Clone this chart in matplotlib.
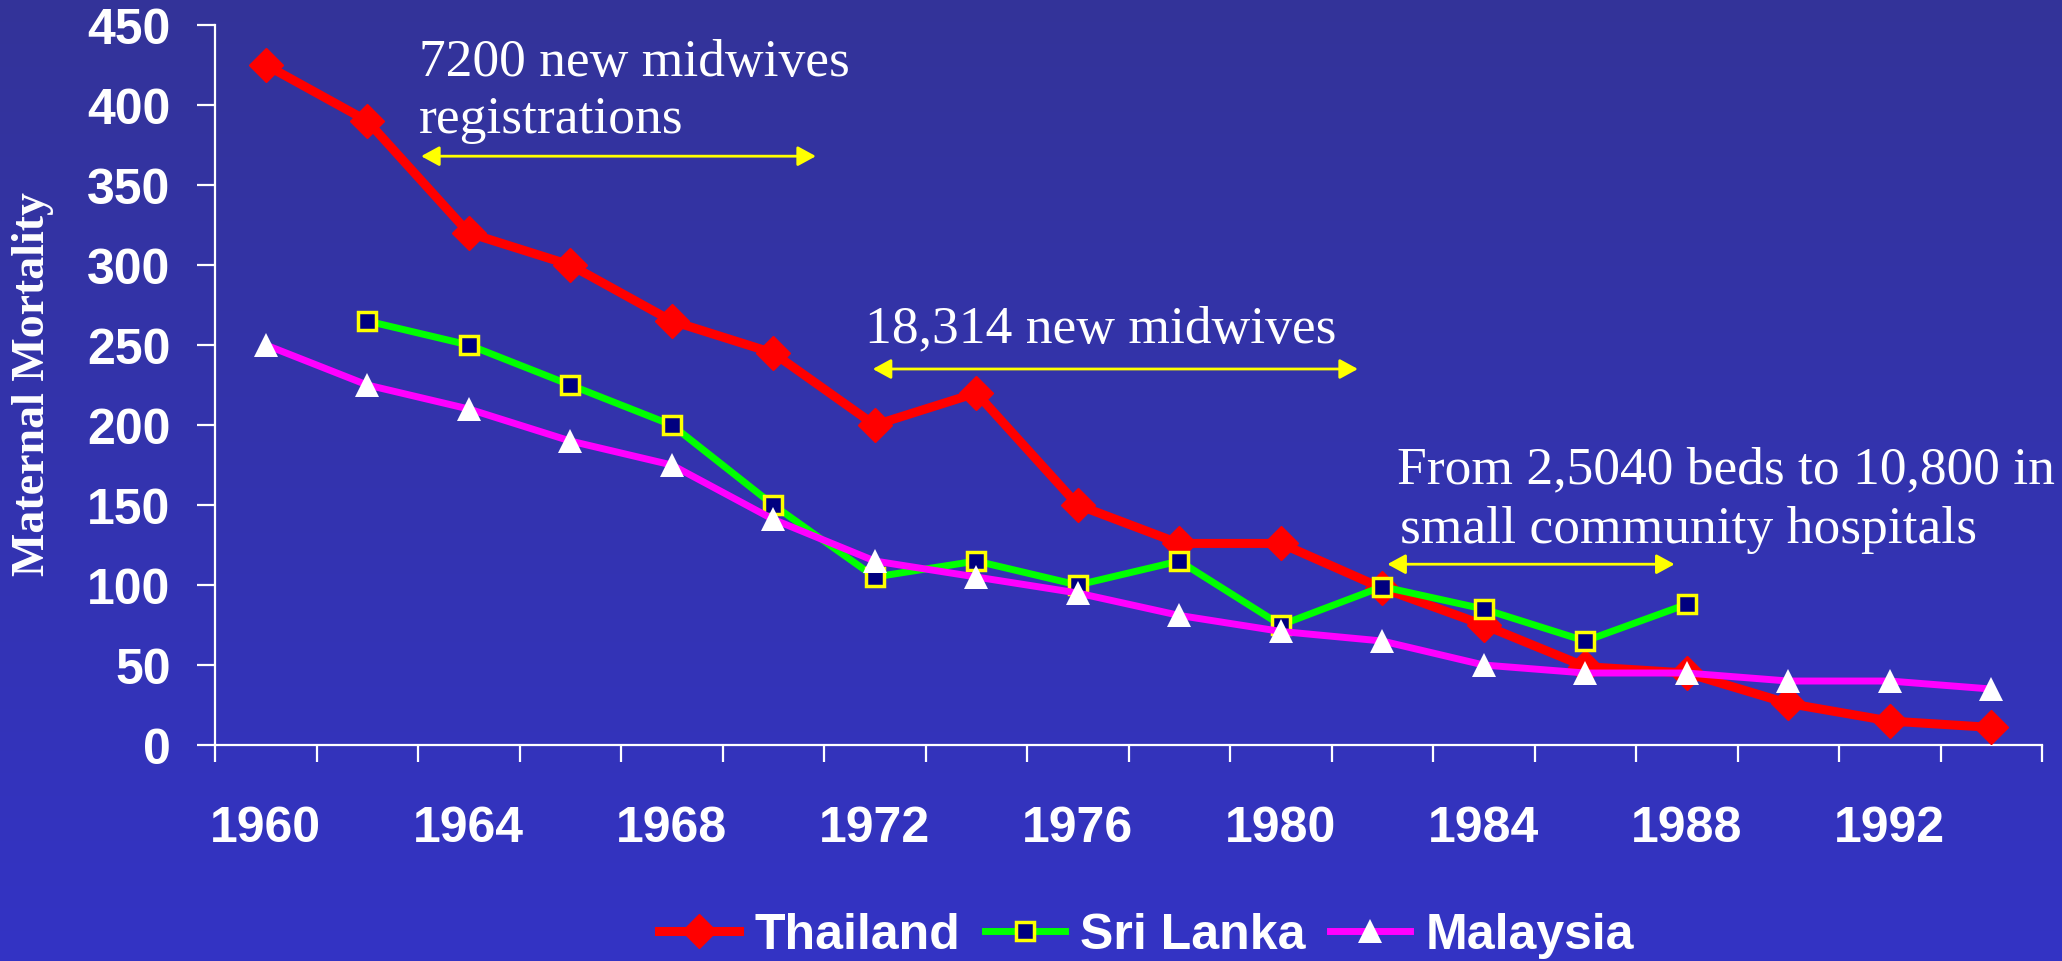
import numpy as np
import matplotlib
matplotlib.use("Agg")
import matplotlib.pyplot as plt

# Data (2-year steps)
years = [1960, 1962, 1964, 1966, 1968, 1970, 1972, 1974, 1976,
         1978, 1980, 1982, 1984, 1986, 1988, 1990, 1992, 1994]
thailand = [425, 390, 320, 300, 265, 245, 200, 220, 150,
            126, 126, 98, 75, 49, 45, 26, 15, 11]
sri_lanka = [None, 265, 250, 225, 200, 150, 105, 115, 100,
             115, 75, 99, 85, 65, 88, None, None, None]
malaysia = [250, 225, 210, 190, 175, 141, 115, 105, 95,
            81, 71, 65, 50, 45, 45, 40, 40, 35]
year_labels = ["1960", "1964", "1968", "1972", "1976", "1980", "1984", "1988", "1992"]
y_ticks = [0, 50, 100, 150, 200, 250, 300, 350, 400, 450]

sans = "Liberation Sans"
serif = "Liberation Serif"

fig = plt.figure(figsize=(20.62, 9.62), dpi=100)

# background gradient
bg = fig.add_axes([0, 0, 1, 1], zorder=-10)
grad = np.linspace(0, 1, 256).reshape(-1, 1)
top_c = np.array([0.20, 0.20, 0.60])
bot_c = np.array([0.20, 0.20, 0.77])
img = top_c + (bot_c - top_c) * grad[..., None]
bg.imshow(img, aspect="auto", extent=[0, 1, 0, 1], origin="upper")
bg.axis("off")

ax = fig.add_axes([0.1043, 0.2245, 0.8860, 0.7485])
ax.set_facecolor("none")

x = np.arange(len(years))
sl = np.array([np.nan if v is None else v for v in sri_lanka], dtype=float)

ax.plot(x, thailand, color="#FF0000", lw=6.5, marker="D", ms=17,
        mfc="#FF0000", mec="#FF0000", label="Thailand", zorder=3, clip_on=False)
ax.plot(x, sl, color="#00FF00", lw=5, marker="s", ms=12.5,
        mfc="#000080", mec="#FFFF00", mew=2.5, label="Sri Lanka", zorder=4, clip_on=False)
ax.plot(x, malaysia, color="#FF00FF", lw=5, marker="^", ms=17,
        mfc="white", mec="white", mew=0, label="Malaysia", zorder=5, clip_on=False)

ax.set_xlim(-0.5, len(years) - 0.5)
ax.set_ylim(0, 450)

for s in ["top", "right"]:
    ax.spines[s].set_visible(False)
for s in ["left", "bottom"]:
    ax.spines[s].set_color("white")
    ax.spines[s].set_linewidth(1.6)

ax.set_yticks(y_ticks)
ax.set_yticklabels([str(v) for v in y_ticks], fontsize=36, fontweight="bold",
                   color="white", family=sans)
ax.tick_params(axis="y", direction="out", length=13, width=1.6, colors="white", pad=19)

ax.set_xticks(np.arange(-0.5, len(years)))
ax.set_xticklabels([])
ax.tick_params(axis="x", which="major", direction="out", length=12, width=1.6, colors="white")
ax.set_xticks(x[::2], minor=True)
ax.set_xticklabels(year_labels, minor=True, fontsize=36, fontweight="bold",
                   color="white", family=sans)
ax.tick_params(axis="x", which="minor", length=0, pad=43)

fig.text(0.016, 0.601, "Maternal Mortality", rotation=90, ha="center", va="center",
         fontsize=33, fontweight="bold", color="white", family=serif)

# annotations
txt = dict(fontsize=38.5, color="white", family=serif, ha="left", va="baseline")
ax.text(1.51, 419, "7200 new midwives", **txt)
ax.text(1.51, 383, "registrations", **txt)
ax.text(5.90, 252, "18,314 new midwives", **txt)
ax.text(11.15, 164, "From 2,5040 beds to 10,800 in", **txt)
ax.text(11.17, 127, "small community hospitals", **txt)

arrow = dict(arrowstyle="<|-|>,head_length=1.1,head_width=0.6", color="#FFFF00",
             lw=2, shrinkA=0, shrinkB=0, mutation_scale=10)
ax.annotate("", xy=(1.53, 368), xytext=(5.42, 368), arrowprops=arrow)
ax.annotate("", xy=(5.98, 235), xytext=(10.76, 235), arrowprops=arrow)
ax.annotate("", xy=(11.05, 113), xytext=(13.88, 113), arrowprops=arrow)

leg = fig.legend(loc="center", bbox_to_anchor=(0.556, 0.027), ncol=3, frameon=False,
                 handlelength=1.6, handletextpad=0.3, columnspacing=0.5,
                 prop={"family": sans, "weight": "bold", "size": 36})
for t in leg.get_texts():
    t.set_color("white")

fig.savefig("out.png", dpi=100)
